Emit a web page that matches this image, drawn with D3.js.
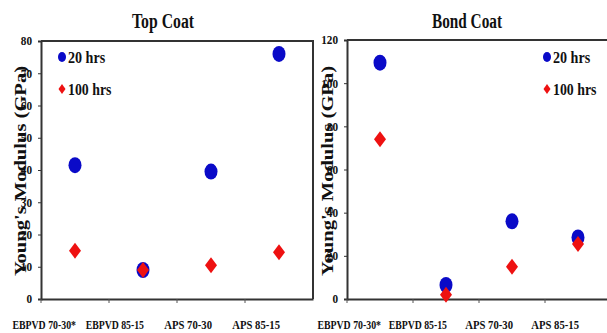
<!DOCTYPE html>
<html>
<head>
<meta charset="utf-8">
<script src="https://cdn.jsdelivr.net/npm/d3@7"></script>
<style>
  body { margin: 0; background: #fff; }
  svg text { font-family: "Liberation Serif", "Times New Roman", serif; font-weight: bold; fill: #111; }
</style>
</head>
<body>
<svg id="chart" width="607" height="333"></svg>
<script>
const categories = ["EBPVD 70-30*", "EBPVD 85-15", "APS 70-30", "APS 85-15"];
const seriesNames = ["20 hrs", "100 hrs"];

const topCoat20 = [41.5, 9, 39.5, 76];
const topCoat100 = [15, 9, 10.5, 14.5];
const bondCoat20 = [109.5, 6.5, 36, 28.5];
const bondCoat100 = [74, 2, 15, 25.5];

const topTicks = [0, 10, 20, 30, 40, 50, 60, 70, 80];
const bondTicks = [0, 20, 40, 60, 80, 100, 120];

const svg = d3.select("#chart");
const blue = "#0a0ac8";
const red = "#ee1111";

const panels = [
    { title: "Top Coat", s20: topCoat20, s100: topCoat100, ticks: topTicks, yMax: 80,
      left: 41, right: 313, top: 41, bottom: 299, titleX: 163, titleW: 62,
      labelX: 20, legendX: 62 },
    { title: "Bond Coat", s20: bondCoat20, s100: bondCoat100, ticks: bondTicks, yMax: 120,
      left: 347, right: 611, top: 40, bottom: 299, titleX: 467, titleW: 70,
      labelX: 327, legendX: 547 }
];

panels.forEach(p => {
    const x = d3.scaleBand().domain(categories).range([p.left, p.right]);
    const y = d3.scaleLinear().domain([0, p.yMax]).range([p.bottom, p.top]);

    //y-axis label (under the tick labels, as in the original)
    svg.append("text")
        .attr("transform", `translate(${p.labelX + 6},171) rotate(-90)`)
        .attr("text-anchor", "middle")
        .style("font-size", "16px")
        .attr("textLength", 210)
        .attr("lengthAdjust", "spacingAndGlyphs")
        .text("Young's Modulus (GPa)");

    //plot frame (top and right sides)
    svg.append("path")
        .attr("d", `M${p.left},${p.top}H${p.right}V${p.bottom}`)
        .attr("fill", "none")
        .attr("stroke", "#333")
        .attr("stroke-width", 2);

    //y-axis
    const gy = svg.append("g")
        .attr("transform", `translate(${p.left},0)`)
        .call(d3.axisLeft(y).tickValues(p.ticks).tickSize(3).tickPadding(6));
    gy.select(".domain").attr("stroke", "#333").attr("stroke-width", 2);
    gy.selectAll(".tick line").attr("stroke", "#333");
    gy.selectAll(".tick text")
        .style("font-family", "'Liberation Serif', serif")
        .style("font-weight", "bold")
        .style("font-size", "12px")
        .attr("fill", "#111")
        .attr("textLength", d => String(d).length * 5.6)
        .attr("lengthAdjust", "spacingAndGlyphs");

    //x-axis
    const gx = svg.append("g")
        .attr("transform", `translate(0,${p.bottom})`)
        .call(d3.axisBottom(x).tickSize(0).tickFormat(""));
    gx.select(".domain").attr("stroke", "#333").attr("stroke-width", 2);
    gx.selectAll(".tick").remove();

    //boundary tick marks between categories
    svg.append("g").selectAll("line")
        .data(categories)
        .join("line")
        .attr("x1", d => x(d))
        .attr("x2", d => x(d))
        .attr("y1", p.bottom)
        .attr("y2", p.bottom + 4)
        .attr("stroke", "#555")
        .attr("stroke-width", 1);

    svg.append("g").selectAll("text")
        .data(categories)
        .join("text")
        .attr("x", d => x(d) + x.bandwidth() / 2 + 1)
        .attr("y", 329)
        .attr("text-anchor", "end")
        .style("font-size", "12px")
        .attr("textLength", d => d.length * 5.3)
        .attr("lengthAdjust", "spacingAndGlyphs")
        .text(d => d);

    //title
    svg.append("text")
        .attr("x", p.titleX)
        .attr("y", 28)
        .attr("text-anchor", "middle")
        .style("font-size", "20px")
        .attr("textLength", p.titleW)
        .attr("lengthAdjust", "spacingAndGlyphs")
        .text(p.title);

    const cx = d => x(d) + x.bandwidth() / 2;

    //20 hrs circles
    svg.append("g").selectAll("ellipse")
        .data(categories.map((c, i) => ({ c, v: p.s20[i] })))
        .join("ellipse")
        .attr("cx", d => cx(d.c))
        .attr("cy", d => y(d.v))
        .attr("rx", 6.5)
        .attr("ry", 8)
        .attr("fill", blue);

    //100 hrs diamonds
    svg.append("g").selectAll("path")
        .data(categories.map((c, i) => ({ c, v: p.s100[i] })))
        .join("path")
        .attr("d", "M0,-8L6,0L0,8L-6,0Z")
        .attr("transform", d => `translate(${cx(d.c)},${y(d.v)})`)
        .attr("fill", red);

    //legend
    const legend = svg.append("g");
    legend.append("ellipse")
        .attr("cx", p.legendX).attr("cy", 57)
        .attr("rx", 4).attr("ry", 5)
        .attr("fill", blue);
    legend.append("path")
        .attr("d", "M0,-5L3.5,0L0,5L-3.5,0Z")
        .attr("transform", `translate(${p.legendX},89)`)
        .attr("fill", red);
    legend.selectAll("text")
        .data(seriesNames)
        .join("text")
        .attr("x", p.legendX + 6)
        .attr("y", (d, i) => 63 + i * 32)
        .style("font-size", "16px")
        .attr("textLength", d => d.length * 6.2)
        .attr("lengthAdjust", "spacingAndGlyphs")
        .text(d => d);
});
</script>
</body>
</html>
